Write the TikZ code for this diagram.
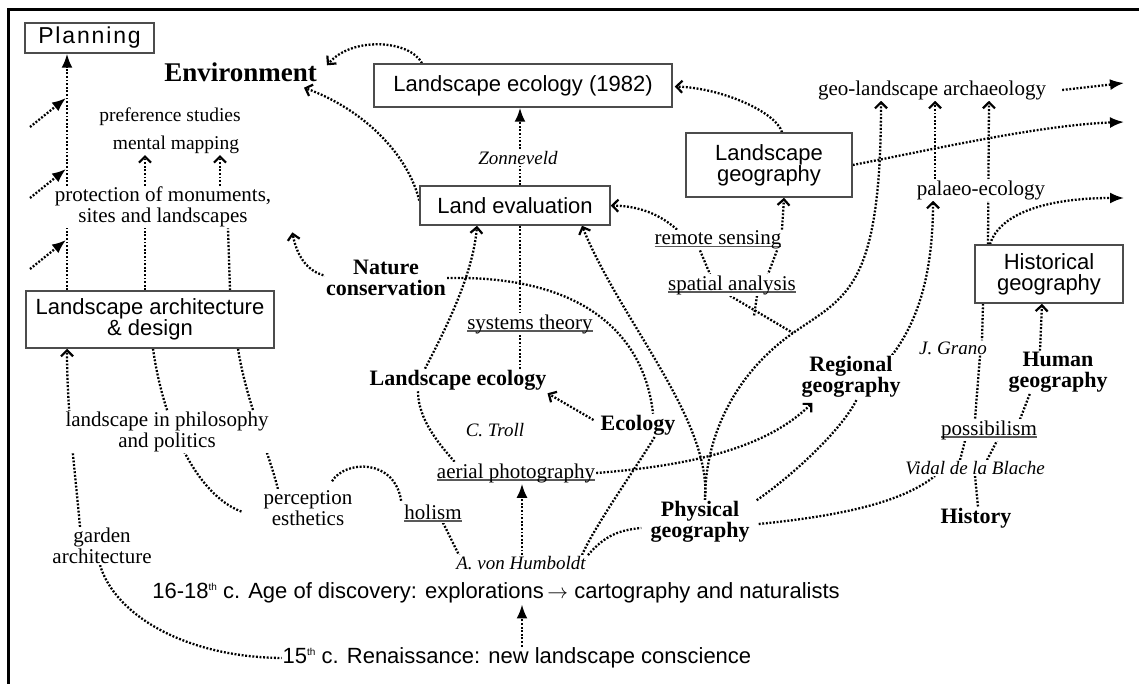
\documentclass[tikz,border=0pt]{standalone}
\usepackage{fontspec}
\setmainfont{Liberation Serif}
\newfontfamily\sansf{Liberation Sans}
\newfontfamily\sansls[LetterSpace=8]{Liberation Sans}
\usetikzlibrary{arrows.meta,calc}
\pgfdeclarelayer{links}
\pgfsetlayers{links,main}
\definecolor{boxgray}{gray}{0.3}
\definecolor{ulgray}{gray}{0.35}
% underlined term: the rule runs just under the baseline
\newcommand\ulin[1]{\setbox0=\hbox{#1}\rlap{\textcolor{ulgray}{\rule[-2.5pt]{\wd0}{1.2pt}}}\box0}
\newcommand\thsup{\raisebox{8pt}{\fontsize{10}{10}\selectfont th}}

\tikzset{
  box/.style={draw=boxgray, line width=1.5pt, fill=white, inner sep=0pt, align=center,
              font=\sansf\fontsize{22}{21}\selectfont},
  txt/.style={fill=white, inner sep=1pt, align=center, font=\fontsize{21}{21}\selectfont},
  bld/.style={txt, font=\bfseries\fontsize{22}{21}\selectfont},
  itl/.style={txt, font=\itshape\fontsize{19}{19}\selectfont},
  era/.style={txt, font=\sansf\fontsize{22}{22}\selectfont},
  link/.style={line width=2.3pt, dash pattern=on 1.9pt off 1.7pt},
  fa/.style={link, -{Latex[length=14pt,width=11pt]}},
  oa/.style={link, -{Straight Barb[length=6pt,width=12pt,line width=2.2pt]}},
}

\begin{document}
\begin{tikzpicture}[x=1pt,y=-1pt]
\useasboundingbox (0,0) rectangle (1139,684);

% boxed disciplines
\node[box, minimum width=129pt, minimum height=30pt, font=\sansls\fontsize{23}{21}\selectfont] (planning) at (89.5,38) {Planning};
\node[box, minimum width=298pt, minimum height=43pt] (le82) at (523,85.5) {Landscape ecology (1982)};
\node[box, minimum width=190pt, minimum height=39pt] (landeval) at (515,205.5) {Land evaluation};
\node[box, minimum width=166pt, minimum height=64pt] (lgeo) at (769,165) {Landscape\\geography};
\node[box, minimum width=248pt, minimum height=57pt] (lad) at (150,319.5) {Landscape architecture\\\& design};
\node[box, minimum width=148pt, minimum height=58pt] (histgeo) at (1049,274) {Historical\\geography};

% free labels
\node[bld, font=\bfseries\fontsize{27}{27}\selectfont, anchor=east] (env) at (318,72) {Environment};
\node[txt, font=\fontsize{19.5}{19.5}\selectfont] (pref) at (170,117) {preference studies};
\node[txt, font=\fontsize{19.5}{19.5}\selectfont] (mental) at (176,145) {mental mapping};
\node[txt] (prot) at (163,207) {protection of monuments,\\sites and landscapes};
\node[bld] (natcons) at (386,278) {Nature\\conservation};
\node[itl] (zonn) at (518,158) {Zonneveld};
\node[txt] (systh) at (530,324) {\ulin{systems theory}};
\node[bld] (lecol) at (458,380) {Landscape ecology};
\node[itl] (ctroll) at (495,430) {C. Troll};
\node[bld] (ecology) at (638,425) {Ecology};
\node[txt] (aerial) at (516,473) {\ulin{aerial photography}};
\node[txt] (holism) at (433,513) {\ulin{holism}};
\node[itl] (humboldt) at (521,563) {A. von Humboldt};
\node[txt] (percep) at (308,508) {perception\\esthetics};
\node[txt] (lphil) at (167,432) {landscape in philosophy\\and politics};
\node[txt] (garden) at (102,546) {garden\\architecture};
\node[era] (discovery) at (496,593) {16-18\thsup{} c. Age of discovery: explorations\,$\rightarrow$ cartography and naturalists};
\node[era] (renaiss) at (517,658) {15\thsup{} c. Renaissance: new landscape conscience};
\node[bld] (physgeo) at (700,522) {Physical\\geography};
\node[txt] (remote) at (718,240) {\ulin{remote sensing}};
\node[txt] (spatial) at (732,285) {\ulin{spatial analysis}};
\node[bld] (regional) at (851,377) {Regional\\geography};
\node[txt] (geoarch) at (932,90) {geo-landscape archaeology};
\node[txt] (palaeo) at (981,190) {palaeo-ecology};
\node[itl] (jgrano) at (953,348) {J. Grano};
\node[bld] (humangeo) at (1058,372) {Human\\geography};
\node[txt] (possib) at (989,430) {\ulin{possibilism}};
\node[itl] (vidal) at (975,468) {Vidal de la Blache};
\node[bld] (history) at (976,518) {History};

% loose ends
\coordinate (lin1) at (30,127);
\coordinate (lin2) at (30,198);
\coordinate (lin3) at (30,269);
\coordinate (hit1) at (66,98);
\coordinate (hit2) at (66,169);
\coordinate (hit3) at (66,240);
\coordinate (out1) at (1124,83);
\coordinate (out2) at (1124,122);
\coordinate (out3) at (1124,198);
\coordinate (junc) at (793,333);
\coordinate (tick) at (754,316);

\begin{pgfonlayer}{links}
% frame
\draw[line width=3pt] (8,720) -- (8,10) -- (1160,10);

% planning column
\draw[fa] ([xshift=-83pt]lad.north) -- ([xshift=-22.5pt]planning.south);
\draw[fa] (lin1) -- (hit1);
\draw[fa] (lin2) -- (hit2);
\draw[fa] (lin3) -- (hit3);
\draw[oa] ([xshift=-18pt]prot.north) -- ([xshift=-31pt]mental.south);
\draw[oa] ([xshift=57pt]prot.north) -- ([xshift=44pt]mental.south);
\draw[link] ([xshift=-5pt]lad.north) -- ([xshift=-18pt]prot.south);
\draw[link] ([xshift=80pt]lad.north) -- ([xshift=65pt]prot.south);
\draw[oa] ([xshift=-22pt]garden.north) .. controls (74,460) and (67,410) .. ([xshift=-83pt]lad.south);
\draw[link] ([xshift=3pt]lad.south) .. controls (163,420) and (195,495) .. ($(percep.west)+(-20,4)$);
\draw[link] ([xshift=88pt]lad.south) .. controls (246,400) and (268,450) .. ([xshift=-30pt]percep.north);
\draw[link] ($(percep.north)+(24,-8)$) .. controls (345,460) and (395,458) .. ($(holism.north west)+(-2,-2)$);
\draw[link] ([xshift=-2pt]garden.south) .. controls (115,615) and (185,657) .. (renaiss.west);

% Humboldt and the middle column
\draw[link] ([xshift=10pt]holism.south) -- ([xshift=-62pt]humboldt.north);
\draw[fa] ([xshift=1pt]humboldt.north) -- ([xshift=6pt]aerial.south);
\draw[fa] ([xshift=5pt]renaiss.north) -- ([xshift=26pt]discovery.south);
\draw[link] ([xshift=-40pt]lecol.south) .. controls (418,420) and (440,445) .. ([xshift=-61pt]aerial.north);
\draw[oa] ([xshift=-33pt]lecol.north) .. controls (445,330) and (473,275) .. ([xshift=-38pt]landeval.south);
\draw[link] ([xshift=5pt]landeval.south) -- ([xshift=-10pt]systh.north);
\draw[link] ([xshift=-10pt]systh.south) -- ([xshift=62pt]lecol.north);
\draw[fa] ([xshift=5pt]landeval.north) -- ([xshift=-3pt]le82.south);
\draw[oa] ($(ecology.west)+(-6,-5)$) -- ($(lecol.south east)+(0,2)$);
\draw[link] (natcons.east) .. controls (590,275) and (645,340) .. ([xshift=15pt]ecology.north);
\draw[oa] ($(natcons.west)+(2,-2)$) .. controls (305,272) and (296,252) .. ($(prot.south east)+(20,4)$);
\draw[oa] ([xshift=-101pt]le82.north) .. controls (410,40) and (352,36) .. ($(env.north east)+(9,4)$);
\draw[oa] ($(landeval.west)+(0,-5)$) .. controls (408,155) and (365,110) .. ($(env.south east)+(-14,5)$);
\draw[link] ([xshift=61pt]humboldt.north) .. controls (595,525) and (640,462) .. ([xshift=17pt]ecology.south);
\draw[link] ([xshift=67pt]humboldt.north) .. controls (605,535) and (620,530) .. ($(physgeo.west)+(-8,6)$);

% geography side
\draw[oa] ([xshift=13pt]lgeo.north) .. controls (776,112) and (722,88) .. ($(le82.east)+(2,1)$);
\draw[fa] (lgeo.east) .. controls (930,150) and (1040,125) .. (out2);
\draw[fa] ($(geoarch.east)+(15,0)$) -- (out1);
\draw[fa] ([xshift=-59pt]histgeo.north) .. controls (1000,212) and (1050,198) .. (out3);
\draw[oa] ([xshift=-61pt]histgeo.north) -- ([xshift=57pt]geoarch.south);
\draw[oa] ([xshift=-46pt]palaeo.north) -- ([xshift=3pt]geoarch.south);
\draw[oa] ([xshift=5pt]physgeo.north) .. controls (705,430) and (740,370) .. (junc)
          .. controls (846,296) and (881,290) .. ([xshift=-51pt]geoarch.south);
\draw[oa] ([xshift=5pt]physgeo.north) .. controls (712,420) and (620,320) .. ([xshift=67pt]landeval.south);
\draw[oa] (aerial.east) .. controls (700,465) and (770,445) .. ($(regional.south west)+(12,4)$);
\draw[link] ($(physgeo.north east)+(6,0)$) .. controls (800,470) and (845,425) .. ([xshift=6pt]regional.south);
\draw[link] ($(physgeo.east)+(8,2)$) .. controls (850,515) and (905,500) .. ([xshift=-40pt]vidal.south);
\draw[oa] ([xshift=41pt]regional.north) .. controls (915,325) and (933,280) .. ([xshift=-48pt]palaeo.south);
\draw[link] ([xshift=-18pt]remote.south) -- ([xshift=-22pt]spatial.north);
\draw[link] ([xshift=59pt]remote.south) -- ([xshift=36pt]spatial.north);
\draw[oa] ([xshift=-41pt]remote.north) .. controls (655,210) and (632,206) .. (landeval.east);
\draw[oa] ([xshift=64pt]remote.north) -- ([xshift=15pt]lgeo.south);
\draw[link] ([xshift=-2pt]spatial.south) -- (junc);
\draw[link] ([xshift=25pt]spatial.south) -- (tick);
\draw[link] ([xshift=-66pt]histgeo.south) -- ([xshift=29pt]jgrano.north);
\draw[link] ([xshift=27pt]jgrano.south) -- ([xshift=-14pt]possib.north);
\draw[oa] ([xshift=-18pt]humangeo.north) -- ([xshift=-7pt]histgeo.south);
\draw[link] ([xshift=31pt]possib.north) -- ([xshift=-28pt]humangeo.south);
\draw[link] ([xshift=-15pt]vidal.north) -- ([xshift=-24pt]possib.south);
\draw[link] ([xshift=12pt]vidal.north) -- ([xshift=8pt]possib.south);
\draw[link] (vidal.south) -- ([xshift=2pt]history.north);
\end{pgfonlayer}
\end{tikzpicture}
\end{document}
